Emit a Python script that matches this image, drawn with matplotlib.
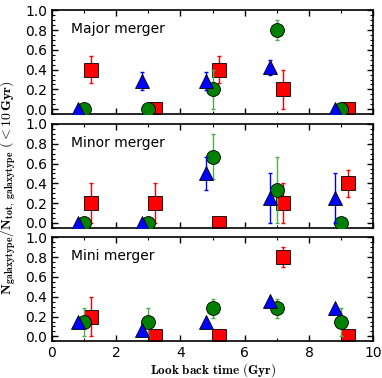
import numpy as np
import matplotlib
matplotlib.use("Agg")
import matplotlib.pyplot as plt
from matplotlib.ticker import MultipleLocator

plt.rcParams['mathtext.fontset'] = 'cm'

# posicoes em tempo (Gyr)
t_tri = [0.8, 2.8, 4.8, 6.8, 8.8]
t_circ = [1.0, 3.0, 5.0, 7.0, 9.0]
t_sq = [1.2, 3.2, 5.2, 7.2, 9.2]

panel_names = ['Major merger', 'Minor merger', 'Mini merger']

# triangulos azuis
blue_y = [[0.0, 0.286, 0.286, 0.43, 0.0],
          [0.0, 0.0, 0.5, 0.25, 0.25],
          [0.143, 0.067, 0.143, 0.357, 0.286]]
blue_lo = [[0.0, 0.19, 0.19, 0.35, 0.0],
           [0.0, 0.0, 0.33, 0.0, 0.0],
           [0.143, 0.067, 0.143, 0.357, 0.286]]
blue_hi = [[0.0, 0.38, 0.38, 0.5, 0.0],
           [0.0, 0.0, 0.67, 0.5, 0.5],
           [0.143, 0.067, 0.143, 0.357, 0.286]]

# circulos verdes
green_y = [[0.0, 0.0, 0.2, 0.8, 0.0],
           [0.0, 0.0, 0.667, 0.333, 0.0],
           [0.143, 0.143, 0.286, 0.286, 0.143]]
green_lo = [[0.0, 0.0, 0.0, 0.7, 0.0],
            [0.0, 0.0, 0.44, 0.0, 0.0],
            [0.0, 0.0, 0.19, 0.19, 0.0]]
green_hi = [[0.0, 0.0, 0.4, 0.9, 0.0],
            [0.0, 0.0, 0.9, 0.667, 0.0],
            [0.286, 0.286, 0.38, 0.38, 0.286]]

# quadrados vermelhos
red_y = [[0.4, 0.0, 0.4, 0.2, 0.0],
         [0.2, 0.2, 0.0, 0.2, 0.4],
         [0.2, 0.0, 0.0, 0.8, 0.0]]
red_lo = [[0.26, 0.0, 0.26, 0.0, 0.0],
          [0.0, 0.0, 0.0, 0.0, 0.26],
          [0.0, 0.0, 0.0, 0.7, 0.0]]
red_hi = [[0.54, 0.0, 0.54, 0.4, 0.0],
          [0.4, 0.4, 0.0, 0.4, 0.54],
          [0.4, 0.0, 0.0, 0.9, 0.0]]


def draw_series(ax, x, y, lo, hi, color, marker, ms, z, ecolor):
    y = np.array(y)
    err = [y - np.array(lo), np.array(hi) - y]
    ax.errorbar(x, y, yerr=err, fmt='none', ecolor=ecolor, elinewidth=1,
                capsize=1.5, capthick=1, zorder=z)
    ax.plot(x, y, linestyle='none', marker=marker, color=color, markersize=ms,
            markeredgecolor='k', markeredgewidth=0.6, zorder=z + 0.5)


fig = plt.figure(figsize=(3.82, 3.78), dpi=100)
axes = [fig.add_axes([0.136, 0.698, 0.841, 0.275]),
        fig.add_axes([0.136, 0.397, 0.841, 0.275]),
        fig.add_axes([0.136, 0.097, 0.841, 0.275])]

for i, ax in enumerate(axes):
    draw_series(ax, t_sq, red_y[i], red_lo[i], red_hi[i], 'red', 's', 9.5, 2, 'red')
    draw_series(ax, t_circ, green_y[i], green_lo[i], green_hi[i], 'green', 'o', 10, 3, '#4caf4c')
    draw_series(ax, t_tri, blue_y[i], blue_lo[i], blue_hi[i], 'blue', '^', 10, 4, 'blue')
    ax.set_xlim(0, 10)
    ax.set_ylim(-0.05, 1.0)
    ax.set_yticks([0.0, 0.2, 0.4, 0.6, 0.8, 1.0])
    ax.xaxis.set_major_locator(MultipleLocator(2))
    ax.xaxis.set_minor_locator(MultipleLocator(1))
    ax.yaxis.set_minor_locator(MultipleLocator(0.05))
    ax.tick_params(which='both', direction='in', top=True, right=True, labelsize=10)
    ax.tick_params(which='major', length=4, width=1)
    ax.tick_params(which='minor', length=2, width=0.8)
    for s in ax.spines.values():
        s.set_linewidth(1.2)
    ax.text(0.06, 0.82, panel_names[i], transform=ax.transAxes, fontsize=10,
            va='center', ha='left')
    if i < 2:
        ax.set_xticklabels([])

axes[2].set_xlabel(r'$\mathbf{Look\ back\ time\ (Gyr)}$', fontsize=9.5, labelpad=0.5)
fig.text(0.022, 0.505,
         r'$\mathbf{N_{galaxy type}/N_{tot,\ galaxy type}\ (<10\,Gyr)}$',
         rotation=90, va='center', ha='center', fontsize=10)

fig.savefig('out.png', dpi=100)
